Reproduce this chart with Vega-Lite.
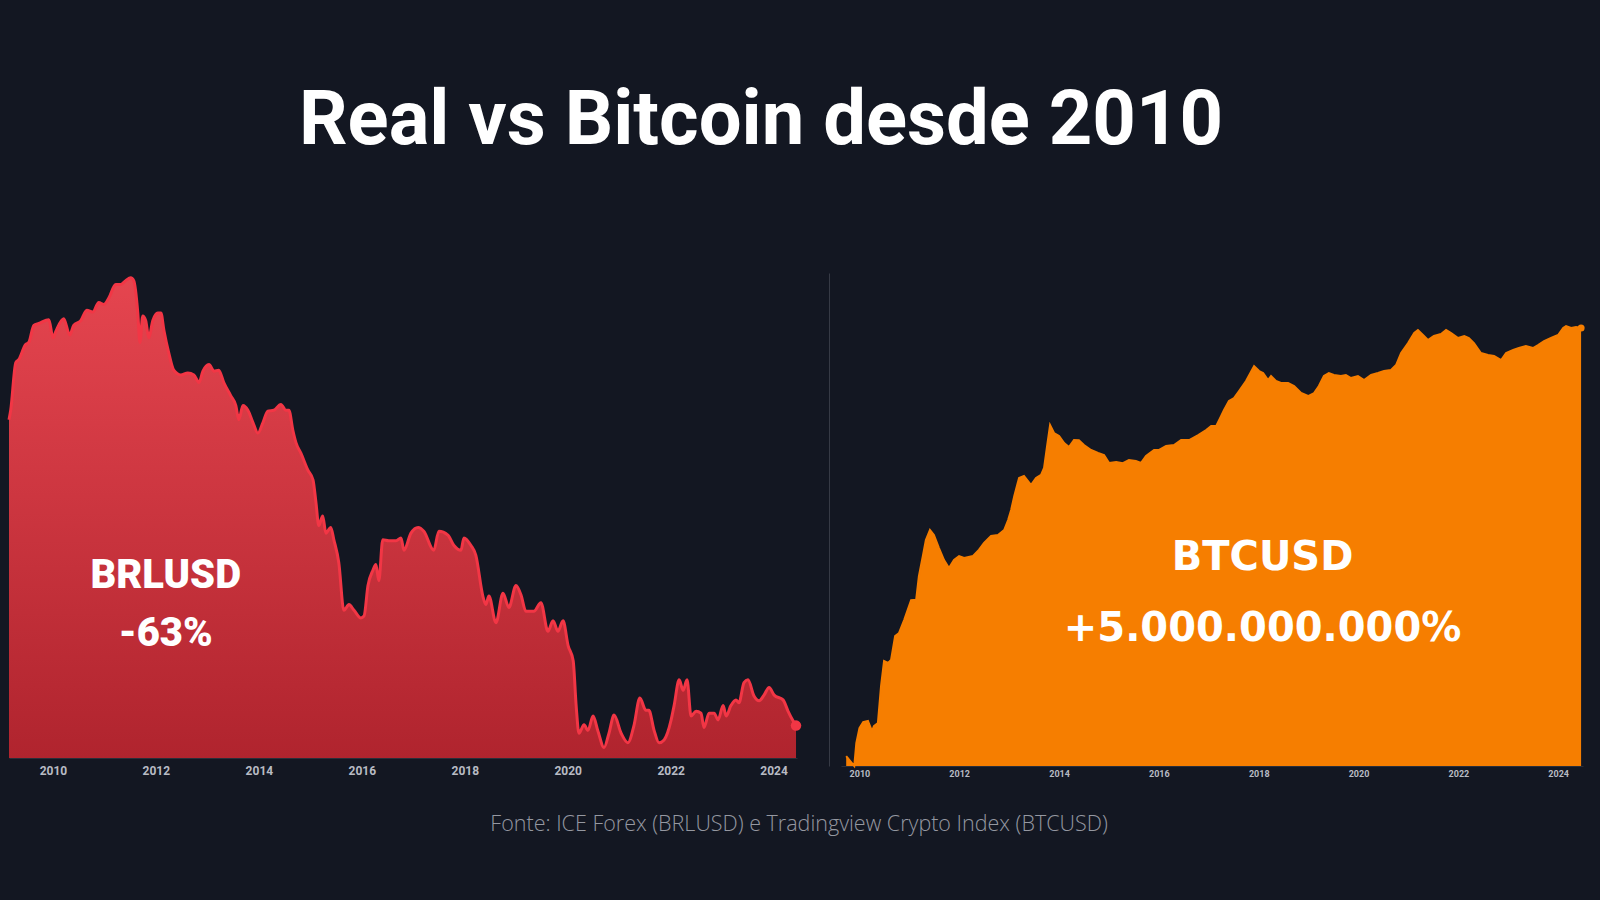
{
  "$schema": "https://vega.github.io/schema/vega-lite/v6.json",
  "background": "#131722",
  "padding": {"left": 3, "top": 82, "right": 14, "bottom": 64},
  "config": {"view": {"stroke": null}},
  "title": {"text": "Real vs Bitcoin desde 2010", "font": "Roboto", "fontSize": 76, "fontWeight": "bold", "color": "#ffffff", "anchor": "middle", "dx": -33, "offset": 112},
  "vconcat": [
    {
      "title": {"text": "Fonte: ICE Forex (BRLUSD) e Tradingview Crypto Index (BTCUSD)", "orient": "bottom", "font": "Open Sans", "fontWeight": 300, "fontSize": 21.5, "color": "#9598a1", "anchor": "middle", "dx": 5, "offset": 36},
      "bounds": "flush",
      "spacing": 44,
      "hconcat": [
        {
          "width": 788,
          "height": 485,
          "data": {"values": [
            {"date":"2009-02-23","v":0.501},{"date":"2009-03-07","v":0.511},{"date":"2009-04-12","v":0.561},{"date":"2009-05-03","v":0.564},{"date":"2009-06-21","v":0.580},{"date":"2009-07-13","v":0.582},{"date":"2009-08-18","v":0.600},{"date":"2009-09-23","v":0.602},{"date":"2009-12-03","v":0.606},{"date":"2010-01-01","v":0.587},{"date":"2010-01-22","v":0.594},{"date":"2010-03-18","v":0.607},{"date":"2010-04-30","v":0.590},{"date":"2010-05-28","v":0.600},{"date":"2010-07-17","v":0.605},{"date":"2010-08-29","v":0.616},{"date":"2010-10-10","v":0.614},{"date":"2010-11-22","v":0.624},{"date":"2010-12-28","v":0.622},{"date":"2011-02-02","v":0.629},{"date":"2011-03-22","v":0.643},{"date":"2011-04-27","v":0.643},{"date":"2011-06-01","v":0.647},{"date":"2011-07-07","v":0.650},{"date":"2011-07-28","v":0.647},{"date":"2011-08-26","v":0.613},{"date":"2011-09-10","v":0.582},{"date":"2011-09-30","v":0.610},{"date":"2011-10-21","v":0.605},{"date":"2011-11-12","v":0.587},{"date":"2011-12-10","v":0.605},{"date":"2012-01-15","v":0.613},{"date":"2012-02-06","v":0.613},{"date":"2012-02-27","v":0.595},{"date":"2012-04-02","v":0.571},{"date":"2012-05-07","v":0.553},{"date":"2012-06-26","v":0.548},{"date":"2012-08-15","v":0.550},{"date":"2012-09-27","v":0.548},{"date":"2012-11-02","v":0.540},{"date":"2012-11-30","v":0.552},{"date":"2013-01-12","v":0.559},{"date":"2013-02-17","v":0.552},{"date":"2013-03-22","v":0.553},{"date":"2013-04-27","v":0.540},{"date":"2013-06-16","v":0.526},{"date":"2013-07-21","v":0.516},{"date":"2013-08-12","v":0.501},{"date":"2013-09-10","v":0.516},{"date":"2013-10-15","v":0.511},{"date":"2013-11-20","v":0.498},{"date":"2013-12-25","v":0.487},{"date":"2014-01-30","v":0.498},{"date":"2014-03-05","v":0.510},{"date":"2014-04-17","v":0.511},{"date":"2014-06-06","v":0.517},{"date":"2014-07-11","v":0.511},{"date":"2014-08-02","v":0.511},{"date":"2014-08-30","v":0.490},{"date":"2014-09-21","v":0.477},{"date":"2014-10-26","v":0.466},{"date":"2014-12-15","v":0.448},{"date":"2015-01-20","v":0.438},{"date":"2015-02-10","v":0.414},{"date":"2015-03-02","v":0.390},{"date":"2015-03-30","v":0.400},{"date":"2015-04-21","v":0.382},{"date":"2015-05-26","v":0.388},{"date":"2015-06-17","v":0.375},{"date":"2015-07-22","v":0.351},{"date":"2015-08-27","v":0.301},{"date":"2015-10-02","v":0.307},{"date":"2015-11-07","v":0.301},{"date":"2015-12-26","v":0.293},{"date":"2016-01-17","v":0.295},{"date":"2016-02-14","v":0.327},{"date":"2016-03-20","v":0.343},{"date":"2016-04-10","v":0.349},{"date":"2016-05-01","v":0.332},{"date":"2016-05-29","v":0.375},{"date":"2016-07-11","v":0.374},{"date":"2016-08-31","v":0.374},{"date":"2016-10-05","v":0.377},{"date":"2016-10-26","v":0.364},{"date":"2016-12-15","v":0.382},{"date":"2017-02-04","v":0.388},{"date":"2017-03-16","v":0.384},{"date":"2017-05-26","v":0.364},{"date":"2017-07-01","v":0.384},{"date":"2017-09-03","v":0.380},{"date":"2017-10-16","v":0.369},{"date":"2017-12-05","v":0.364},{"date":"2017-12-26","v":0.377},{"date":"2018-02-14","v":0.369},{"date":"2018-03-20","v":0.359},{"date":"2018-05-09","v":0.316},{"date":"2018-05-30","v":0.307},{"date":"2018-06-21","v":0.316},{"date":"2018-08-10","v":0.288},{"date":"2018-09-29","v":0.319},{"date":"2018-11-10","v":0.304},{"date":"2018-12-30","v":0.327},{"date":"2019-02-04","v":0.317},{"date":"2019-03-10","v":0.300},{"date":"2019-05-06","v":0.300},{"date":"2019-06-25","v":0.309},{"date":"2019-08-14","v":0.279},{"date":"2019-09-19","v":0.290},{"date":"2019-10-24","v":0.279},{"date":"2019-11-29","v":0.290},{"date":"2020-01-04","v":0.264},{"date":"2020-02-09","v":0.248},{"date":"2020-03-01","v":0.201},{"date":"2020-03-21","v":0.172},{"date":"2020-04-26","v":0.181},{"date":"2020-05-24","v":0.175},{"date":"2020-06-29","v":0.190},{"date":"2020-08-03","v":0.174},{"date":"2020-09-15","v":0.157},{"date":"2020-10-20","v":0.172},{"date":"2020-11-25","v":0.191},{"date":"2021-01-14","v":0.172},{"date":"2021-03-03","v":0.162},{"date":"2021-04-15","v":0.180},{"date":"2021-05-27","v":0.209},{"date":"2021-07-09","v":0.196},{"date":"2021-07-30","v":0.196},{"date":"2021-09-05","v":0.175},{"date":"2021-10-10","v":0.162},{"date":"2021-11-15","v":0.165},{"date":"2022-01-04","v":0.186},{"date":"2022-01-25","v":0.201},{"date":"2022-03-02","v":0.228},{"date":"2022-03-30","v":0.217},{"date":"2022-04-27","v":0.228},{"date":"2022-05-25","v":0.190},{"date":"2022-06-30","v":0.195},{"date":"2022-08-04","v":0.193},{"date":"2022-08-25","v":0.178},{"date":"2022-09-30","v":0.193},{"date":"2022-11-05","v":0.193},{"date":"2022-12-03","v":0.186},{"date":"2023-01-08","v":0.201},{"date":"2023-01-29","v":0.190},{"date":"2023-03-04","v":0.201},{"date":"2023-04-09","v":0.207},{"date":"2023-04-30","v":0.204},{"date":"2023-06-05","v":0.225},{"date":"2023-07-03","v":0.228},{"date":"2023-08-15","v":0.211},{"date":"2023-09-20","v":0.206},{"date":"2023-10-25","v":0.212},{"date":"2023-11-30","v":0.220},{"date":"2024-01-05","v":0.212},{"date":"2024-03-08","v":0.207},{"date":"2024-04-13","v":0.195},{"date":"2024-05-18","v":0.185},{"date":"2024-06-08","v":0.180}
          ]},
          "encoding": {
            "x": {"field": "date", "type": "temporal",
                  "scale": {"domain": [{"year": 2009, "month": 2, "date": 23}, {"year": 2024, "month": 6, "date": 15}]},
                  "axis": {"values": [{"year": 2010}, {"year": 2012}, {"year": 2014}, {"year": 2016}, {"year": 2018}, {"year": 2020}, {"year": 2022}, {"year": 2024}],
                           "format": "%Y", "labelFont": "Roboto", "labelFontWeight": "bold", "labelFontSize": 12, "labelColor": "#b8bbc4",
                           "ticks": false, "grid": false, "domain": true, "domainColor": "#2a2e39", "labelPadding": 7, "title": null, "labelFlush": false}},
            "y": {"field": "v", "type": "quantitative", "scale": {"domain": [0.146, 0.655], "zero": false}, "axis": null}
          },
          "layer": [
            {"mark": {"type": "area", "interpolate": "monotone",
                      "color": {"x1": 0, "y1": 0, "x2": 0, "y2": 1, "gradient": "linear",
                                "stops": [{"offset": 0, "color": "#e5454f"}, {"offset": 1, "color": "#b0242e"}]}},
             "encoding": {"y2": {"datum": 0.146}}},
            {"mark": {"type": "line", "interpolate": "monotone", "color": "#f23645", "strokeWidth": 3}},
            {"data": {"values": [{"date": "2024-06-08", "v": 0.180}]},
             "mark": {"type": "circle", "color": "#f23645", "size": 110, "opacity": 1}},
            {"data": {"values": [{"date": "2012-03-11", "v": 0.3245, "label": "BRLUSD"}, {"date": "2012-03-11", "v": 0.2636, "label": "-63%"}]},
             "mark": {"type": "text", "font": "Roboto", "fontWeight": 900, "fontSize": 40, "color": "#ffffff", "align": "center", "baseline": "alphabetic"},
             "encoding": {"text": {"field": "label"}}}
          ]
        },
        {
          "width": 742,
          "height": 493,
          "data": {"values": [
            {"date":"2009-09-26","p":0.00272},{"date":"2009-11-24","p":0.00182},{"date":"2009-12-09","p":0.00457},{"date":"2010-01-01","p":0.00832},{"date":"2010-01-28","p":0.01057},{"date":"2010-03-04","p":0.01102},{"date":"2010-04-03","p":0.00738},{"date":"2010-04-17","p":0.00902},{"date":"2010-05-16","p":0.01016},{"date":"2010-06-08","p":0.0446},{"date":"2010-06-30","p":0.121},{"date":"2010-07-29","p":0.112},{"date":"2010-08-20","p":0.126},{"date":"2010-09-19","p":0.329},{"date":"2010-10-18","p":0.372},{"date":"2010-11-24","p":0.624},{"date":"2011-01-14","p":1.38},{"date":"2011-02-20","p":1.40},{"date":"2011-03-12","p":3.62},{"date":"2011-04-10","p":8.05},{"date":"2011-05-02","p":15.3},{"date":"2011-06-01","p":22.8},{"date":"2011-06-30","p":18.7},{"date":"2011-08-06","p":11.1},{"date":"2011-09-12","p":6.87},{"date":"2011-10-18","p":4.99},{"date":"2011-11-24","p":6.87},{"date":"2011-12-31","p":8.05},{"date":"2012-02-06","p":7.45},{"date":"2012-04-11","p":8.05},{"date":"2012-05-24","p":10.3},{"date":"2012-07-01","p":13.6},{"date":"2012-08-21","p":18.0},{"date":"2012-10-11","p":18.7},{"date":"2012-11-25","p":22.8},{"date":"2012-12-24","p":34.0},{"date":"2013-01-15","p":50.7},{"date":"2013-02-07","p":88.7},{"date":"2013-03-14","p":182},{"date":"2013-04-19","p":197},{"date":"2013-06-09","p":138},{"date":"2013-07-16","p":182},{"date":"2013-08-22","p":206},{"date":"2013-09-13","p":272},{"date":"2013-10-05","p":655},{"date":"2013-10-27","p":1517},{"date":"2013-11-25","p":1102},{"date":"2014-01-01","p":977},{"date":"2014-02-07","p":738},{"date":"2014-03-14","p":630},{"date":"2014-04-20","p":832},{"date":"2014-05-26","p":825},{"date":"2014-07-02","p":681},{"date":"2014-08-23","p":559},{"date":"2014-10-13","p":496},{"date":"2014-11-26","p":457},{"date":"2015-01-02","p":332},{"date":"2015-02-23","p":345},{"date":"2015-04-13","p":330},{"date":"2015-05-27","p":374},{"date":"2015-07-17","p":360},{"date":"2015-08-23","p":332},{"date":"2015-09-29","p":439},{"date":"2015-11-27","p":559},{"date":"2016-01-03","p":560},{"date":"2016-02-23","p":655},{"date":"2016-04-21","p":681},{"date":"2016-06-12","p":832},{"date":"2016-08-10","p":830},{"date":"2016-10-15","p":1016},{"date":"2016-12-12","p":1242},{"date":"2017-01-18","p":1455},{"date":"2017-02-24","p":1460},{"date":"2017-04-01","p":2173},{"date":"2017-04-22","p":2761},{"date":"2017-05-28","p":3954},{"date":"2017-07-04","p":4457},{"date":"2017-08-10","p":5902},{"date":"2017-09-30","p":8810},{"date":"2017-11-28","p":16030},{"date":"2018-01-04","p":13120},{"date":"2018-02-02","p":12110},{"date":"2018-03-10","p":9162},{"date":"2018-04-01","p":10740},{"date":"2018-05-07","p":8810},{"date":"2018-06-13","p":8128},{"date":"2018-08-04","p":8100},{"date":"2018-09-17","p":7211},{"date":"2018-11-07","p":5445},{"date":"2018-12-28","p":4831},{"date":"2019-02-10","p":5445},{"date":"2019-03-17","p":7211},{"date":"2019-04-23","p":10740},{"date":"2019-05-29","p":12110},{"date":"2019-07-05","p":11190},{"date":"2019-08-25","p":10740},{"date":"2019-10-01","p":11190},{"date":"2019-11-07","p":9931},{"date":"2019-12-28","p":10740},{"date":"2020-02-11","p":9162},{"date":"2020-04-02","p":11190},{"date":"2020-05-23","p":12110},{"date":"2020-07-06","p":13120},{"date":"2020-08-26","p":13680},{"date":"2020-10-02","p":16670},{"date":"2020-11-08","p":26980},{"date":"2020-12-29","p":40180},{"date":"2021-02-12","p":59980},{"date":"2021-03-11","p":67610},{"date":"2021-04-17","p":55340},{"date":"2021-05-23","p":45290},{"date":"2021-07-06","p":53210},{"date":"2021-08-27","p":57680},{"date":"2021-10-03","p":67610},{"date":"2021-11-09","p":59980},{"date":"2021-12-30","p":49090},{"date":"2022-02-13","p":53210},{"date":"2022-03-19","p":49090},{"date":"2022-04-25","p":40180},{"date":"2022-06-15","p":26980},{"date":"2022-08-06","p":24890},{"date":"2022-09-19","p":23930},{"date":"2022-11-10","p":20370},{"date":"2022-12-16","p":26980},{"date":"2023-02-06","p":30410},{"date":"2023-03-20","p":32920},{"date":"2023-05-10","p":35650},{"date":"2023-07-01","p":32920},{"date":"2023-08-07","p":37150},{"date":"2023-09-20","p":43550},{"date":"2023-11-10","p":49090},{"date":"2024-01-01","p":55340},{"date":"2024-02-07","p":73280},{"date":"2024-02-28","p":79250},{"date":"2024-04-05","p":73280},{"date":"2024-05-11","p":76210},{"date":"2024-06-17","p":73280}
          ]},
          "encoding": {
            "x": {"field": "date", "type": "temporal",
                  "scale": {"domain": [{"year": 2009, "month": 8, "date": 19}, {"year": 2024, "month": 7, "date": 1}]},
                  "axis": {"values": [{"year": 2010}, {"year": 2012}, {"year": 2014}, {"year": 2016}, {"year": 2018}, {"year": 2020}, {"year": 2022}, {"year": 2024}],
                           "format": "%Y", "labelFont": "Roboto", "labelFontWeight": "bold", "labelFontSize": 9, "labelColor": "#b8bbc4",
                           "ticks": false, "grid": false, "domain": true, "domainColor": "#2a2e39", "labelPadding": 3, "title": null, "labelFlush": false}},
            "y": {"field": "p", "type": "quantitative", "scale": {"type": "log", "domain": [0.001824, 660700]},
                  "axis": {"orient": "left", "offset": 12, "labels": false, "ticks": false, "grid": false, "domain": true, "domainColor": "#363a45", "title": null}}
          },
          "layer": [
            {"mark": {"type": "area", "color": "#f67e00"}, "encoding": {"y2": {"datum": 0.001824}}},
            {"mark": {"type": "line", "color": "#f67e00", "strokeWidth": 2}},
            {"data": {"values": [{"date": "2024-06-17", "p": 73280}]},
             "mark": {"type": "circle", "color": "#f67e00", "size": 50, "opacity": 1}},
            {"data": {"values": [{"date": "2018-01-29", "p": 4.606, "label": "BTCUSD"}, {"date": "2018-01-29", "p": 0.270, "label": "+5.000.000.000%"}]},
             "mark": {"type": "text", "font": "DejaVu Sans", "fontWeight": "bold", "fontSize": 40, "color": "#ffffff", "align": "center", "baseline": "alphabetic"},
             "encoding": {"text": {"field": "label"}}}
          ]
        }
      ]
    }
  ]
}
